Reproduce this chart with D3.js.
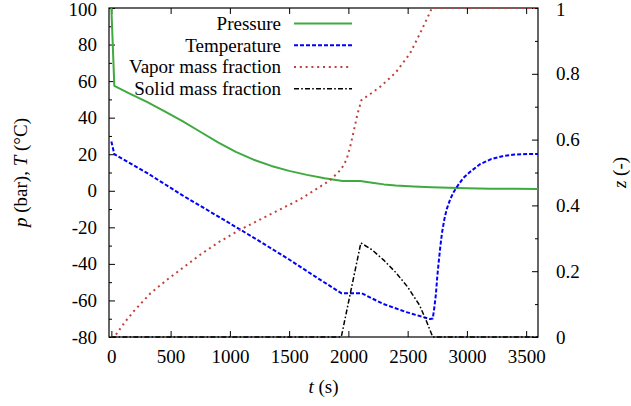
<!DOCTYPE html>
<html>
<head>
<meta charset="utf-8">
<script src="https://cdn.jsdelivr.net/npm/d3@7/dist/d3.min.js"></script>
<style>
  html, body { margin: 0; padding: 0; background: #fff; }
  svg text { font-family: "Liberation Serif", "Times New Roman", Tinos, "Nimbus Roman", "Nimbus Roman No9 L", FreeSerif, "DejaVu Serif", serif; font-size: 19px; fill: #000; }
</style>
</head>
<body>
<svg id="chart" width="631" height="406"></svg>
<script>
// Time series of a depressurisation run: pressure, temperature and phase fractions.
const pressureTime = [0, 25, 150, 300, 450, 600, 750, 900, 1050, 1200, 1350, 1500, 1650, 1800, 1950, 2100, 2200, 2300, 2400, 2550, 2700, 2850, 3000, 3200, 3400, 3600];
const pressureBar  = [100, 57.4, 53.3, 48.6, 43.5, 38.1, 32.3, 26.5, 21.3, 17.0, 13.6, 10.9, 8.7, 6.9, 5.4, 5.3, 4.4, 3.5, 2.85, 2.3, 1.9, 1.6, 1.4, 1.15, 1.05, 1.0];

const temperatureTime = [0, 25, 300, 600, 900, 1200, 1500, 1750, 1940, 2110, 2290, 2490, 2690, 2712, 2725, 2738, 2750, 2762, 2775, 2790, 2810, 2830, 2860, 2890, 2930, 2970, 3030, 3110, 3200, 3300, 3400, 3500, 3600];
const temperatureC    = [27, 20, 9.8, -2.5, -14.0, -25.6, -37.6, -48.2, -56.0, -56.0, -61.8, -66.4, -70.2, -69.9, -64, -57, -47, -39, -31, -23, -15.5, -10, -4.5, -0.5, 3.5, 7, 10.5, 14.5, 17.2, 18.9, 19.8, 20.1, 20.1];

const vaporTime = [0, 25, 115, 193, 330, 470, 610, 750, 900, 1085, 1310, 1590, 1845, 1940, 1985, 2015, 2045, 2075, 2110, 2190, 2270, 2400, 2520, 2605, 2660, 2705, 3600];
const vaporFrac = [0, 0, 0.046, 0.08, 0.133, 0.174, 0.212, 0.25, 0.287, 0.326, 0.367, 0.418, 0.476, 0.51, 0.54, 0.578, 0.625, 0.675, 0.72, 0.74, 0.761, 0.804, 0.862, 0.923, 0.965, 1.0, 1.0];

const solidTime = [0, 1940, 2105, 2200, 2300, 2400, 2500, 2600, 2660, 2712, 3600];
const solidFrac = [0, 0, 0.286, 0.265, 0.233, 0.196, 0.152, 0.097, 0.047, 0, 0];

const timeTicks = [0, 500, 1000, 1500, 2000, 2500, 3000, 3500];
const leftTicks = [-80, -60, -40, -20, 0, 20, 40, 60, 80, 100];
const leftMinorTicks = [-70, -50, -30, -10, 10, 30, 50, 70, 90];
const rightTicks = [0, 0.2, 0.4, 0.6, 0.8, 1];
const rightMinorTicks = [0.1, 0.3, 0.5, 0.7, 0.9];

const series = [
  { name: "Pressure",            t: pressureTime,    v: pressureBar,  axis: "left",  color: "#3faa3f", width: 2,   dash: null },
  { name: "Temperature",         t: temperatureTime, v: temperatureC, axis: "left",  color: "#0000ff", width: 2,   dash: "4,2" },
  { name: "Vapor mass fraction", t: vaporTime,       v: vaporFrac,    axis: "right", color: "#c0403c", width: 2,   dash: "2,3.8" },
  { name: "Solid mass fraction", t: solidTime,       v: solidFrac,    axis: "right", color: "#000000", width: 1.5, dash: "5,2.2,1.6,2.2" }
];

const margin = { left: 109, right: 538, top: 8, bottom: 337 };
const svg = d3.select("#chart");

const x = d3.scaleLinear().domain([-20, 3600]).range([margin.left, margin.right]);
const yL = d3.scaleLinear().domain([-80, 100]).range([margin.bottom, margin.top]);
const yR = d3.scaleLinear().domain([0, 1]).range([margin.bottom, margin.top]);

const fmt = d => String(d);

// axes: ticks point into the plot, gnuplot style
const gBottom = svg.append("g").attr("transform", `translate(0,${margin.bottom})`)
  .call(d3.axisBottom(x).tickValues(timeTicks).tickSize(-6).tickPadding(12.8).tickFormat(fmt));
const gTop = svg.append("g").attr("transform", `translate(0,${margin.top})`)
  .call(d3.axisTop(x).tickValues(timeTicks).tickSize(-6).tickFormat(""));
const gLeft = svg.append("g").attr("transform", `translate(${margin.left},0)`)
  .call(d3.axisLeft(yL).tickValues(leftTicks).tickSize(-6).tickPadding(12).tickFormat(fmt));
const gLeftMinor = svg.append("g").attr("transform", `translate(${margin.left},0)`)
  .call(d3.axisLeft(yL).tickValues(leftMinorTicks).tickSize(-3).tickFormat(""));
const gRight = svg.append("g").attr("transform", `translate(${margin.right},0)`)
  .call(d3.axisRight(yR).tickValues(rightTicks).tickSize(-6).tickPadding(18).tickFormat(fmt));
const gRightMinor = svg.append("g").attr("transform", `translate(${margin.right},0)`)
  .call(d3.axisRight(yR).tickValues(rightMinorTicks).tickSize(-3).tickFormat(""));

[gBottom, gTop, gLeft, gLeftMinor, gRight, gRightMinor].forEach(g => {
  g.attr("font-size", null).attr("font-family", null);
  g.select(".domain").remove();
  g.selectAll(".tick line").attr("stroke", "#000").attr("stroke-width", 1);
});
// keep the top labels fully inside the canvas
gLeft.selectAll(".tick text").filter(d => d === 100).attr("dy", "0.38em");
gRight.selectAll(".tick text").filter(d => d === 1).attr("dy", "0.38em");

// plot frame
svg.append("rect")
  .attr("x", margin.left).attr("y", margin.top)
  .attr("width", margin.right - margin.left).attr("height", margin.bottom - margin.top)
  .attr("fill", "none").attr("stroke", "#000").attr("stroke-width", 1.2);

svg.append("clipPath").attr("id", "plot-clip").append("rect")
  .attr("x", margin.left - 1).attr("y", margin.top - 1)
  .attr("width", margin.right - margin.left + 2).attr("height", margin.bottom - margin.top + 2);

const lines = svg.append("g").attr("clip-path", "url(#plot-clip)");
series.forEach(s => {
  const yS = s.axis === "left" ? yL : yR;
  const pts = s.t.map((t, i) => [t, s.v[i]]);
  const line = d3.line().x(d => x(d[0])).y(d => yS(d[1])).curve(d3.curveLinear);
  lines.append("path")
    .datum(pts)
    .attr("d", line)
    .attr("fill", "none")
    .attr("stroke", s.color)
    .attr("stroke-width", s.width)
    .attr("stroke-linejoin", "round")
    .attr("stroke-dasharray", s.dash);
});

// legend
const legend = svg.append("g");
series.forEach((s, i) => {
  const yy = 23.6 + i * 21.7;
  legend.append("text")
    .attr("x", 281).attr("y", yy).attr("dy", "0.33em")
    .attr("text-anchor", "end").text(s.name);
  legend.append("line")
    .attr("x1", 294).attr("x2", 352).attr("y1", yy).attr("y2", yy)
    .attr("stroke", s.color).attr("stroke-width", s.width)
    .attr("stroke-dasharray", s.dash);
});

// axis titles
const xTitle = svg.append("text").attr("x", (margin.left + margin.right) / 2).attr("y", 393).attr("text-anchor", "middle");
xTitle.append("tspan").attr("font-style", "italic").text("t");
xTitle.append("tspan").text(" (s)");

const yTitle = svg.append("text")
  .attr("transform", `translate(27,${(margin.top + margin.bottom) / 2}) rotate(-90)`)
  .attr("text-anchor", "middle");
yTitle.append("tspan").attr("font-style", "italic").text("p");
yTitle.append("tspan").text(" (bar), ");
yTitle.append("tspan").attr("font-style", "italic").text("T");
yTitle.append("tspan").text(" (°C)");

const zTitle = svg.append("text")
  .attr("transform", `translate(626,${(margin.top + margin.bottom) / 2}) rotate(-90)`)
  .attr("text-anchor", "middle");
zTitle.append("tspan").attr("font-style", "italic").text("z");
zTitle.append("tspan").text(" (-)");
</script>
</body>
</html>
